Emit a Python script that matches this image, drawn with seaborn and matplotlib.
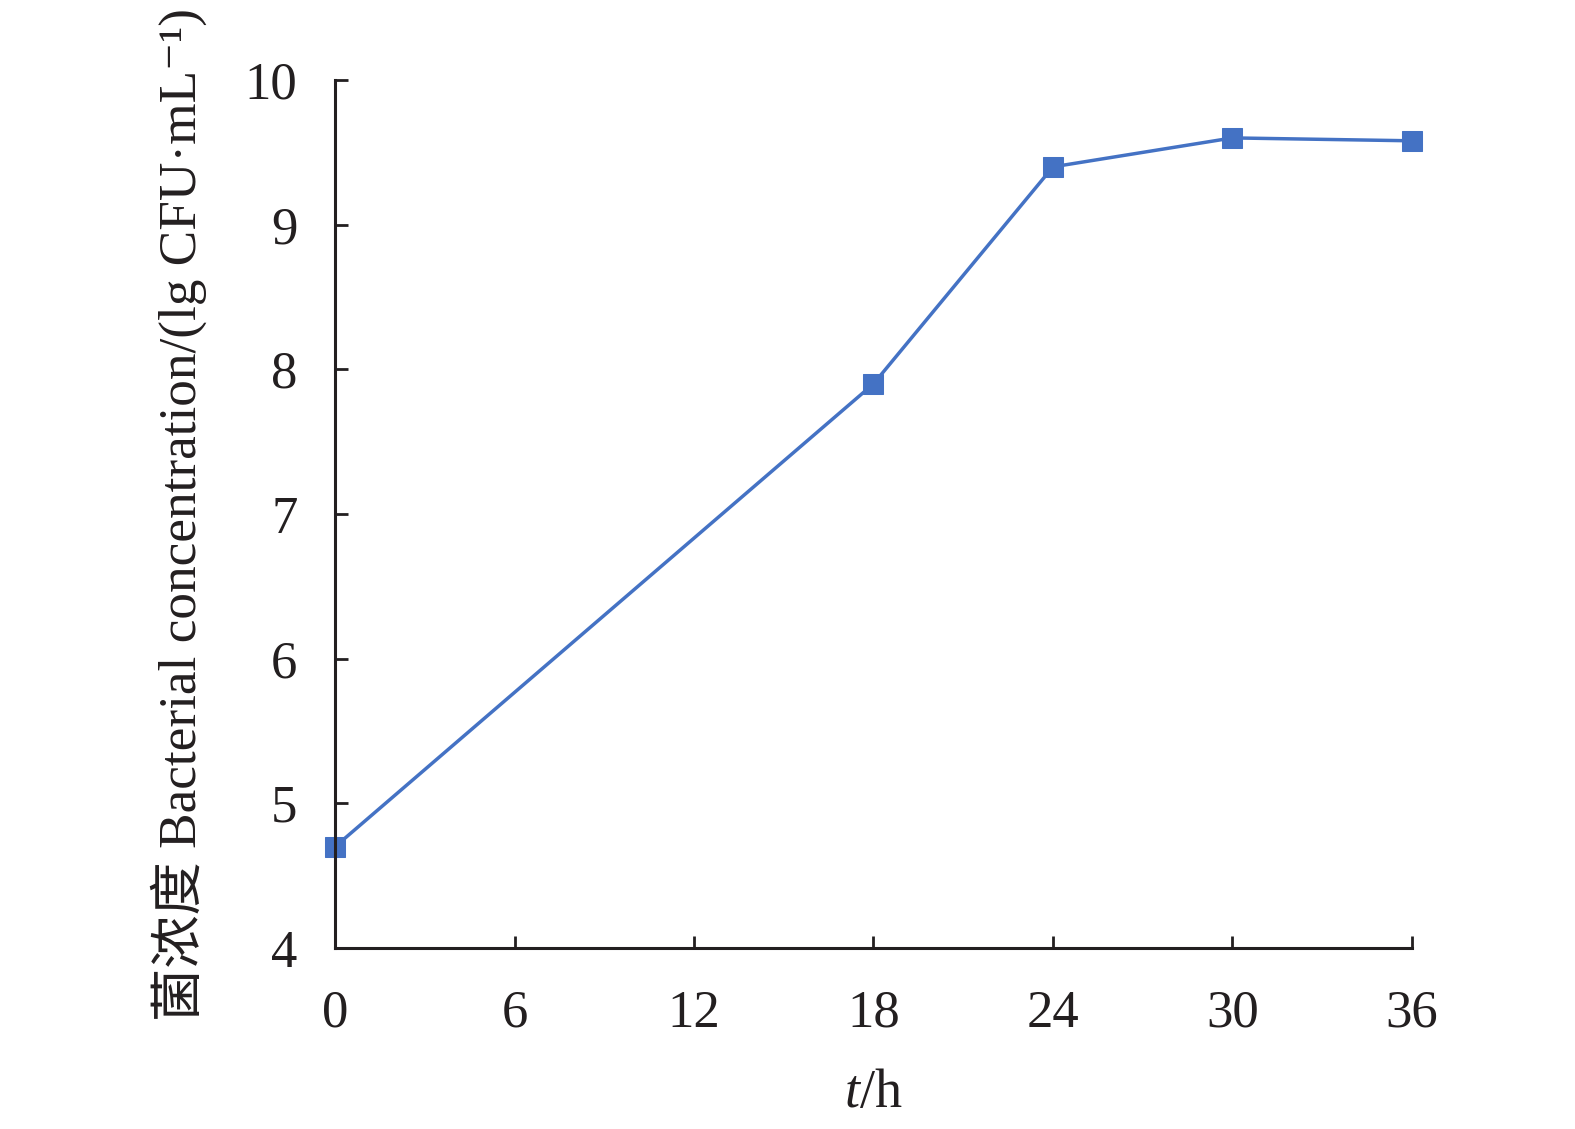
import pandas as pd
import matplotlib
matplotlib.use("Agg")
import matplotlib.pyplot as plt
import seaborn as sns

# Dados
horas = [0, 18, 24, 30, 36]
concentracao = [4.70, 7.90, 9.40, 9.60, 9.58]
ticks_x = [0, 6, 12, 18, 24, 30, 36]
ticks_y = [4, 5, 6, 7, 8, 9, 10]

df = pd.DataFrame({"t": horas, "conc": concentracao})

sns.set_theme(style="ticks")
plt.rcParams['font.family'] = ['Liberation Serif', 'DejaVu Serif', 'Noto Sans CJK SC']
plt.rcParams['mathtext.fontset'] = 'custom'
plt.rcParams['mathtext.rm'] = 'Liberation Serif'
plt.rcParams['mathtext.it'] = 'Liberation Serif:italic'

fig = plt.figure(figsize=(15.75, 11.29), dpi=100)
ax = fig.add_axes([0.2127, 0.1603, 0.6838, 0.7688])

sns.lineplot(data=df, x="t", y="conc", ax=ax, color="#4472C4", linewidth=2.5,
             marker="s", markersize=15, markeredgecolor="#4472C4", clip_on=False)

ax.set_xlim(0, 36)
ax.set_ylim(4, 10)
ax.set_xticks(ticks_x)
ax.set_yticks(ticks_y)
ax.tick_params(axis="both", direction="in", length=9, width=2, colors="#231f20",
               labelsize=38)
ax.tick_params(axis="x", pad=30)
ax.tick_params(axis="y", pad=27)
for lado in ["top", "right"]:
    ax.spines[lado].set_visible(False)
for lado in ["left", "bottom"]:
    ax.spines[lado].set_linewidth(2.2)
    ax.spines[lado].set_color("#231f20")

ax.set_xlabel("$\\it{t}$/h", fontsize=39, color="#231f20", labelpad=22)
ax.set_ylabel("菌浓度 Bacterial concentration/(lg CFU·mL⁻¹)", fontsize=38.3,
              color="#231f20", labelpad=27)

fig.savefig("out.png", dpi=100)
plt.close(fig)
